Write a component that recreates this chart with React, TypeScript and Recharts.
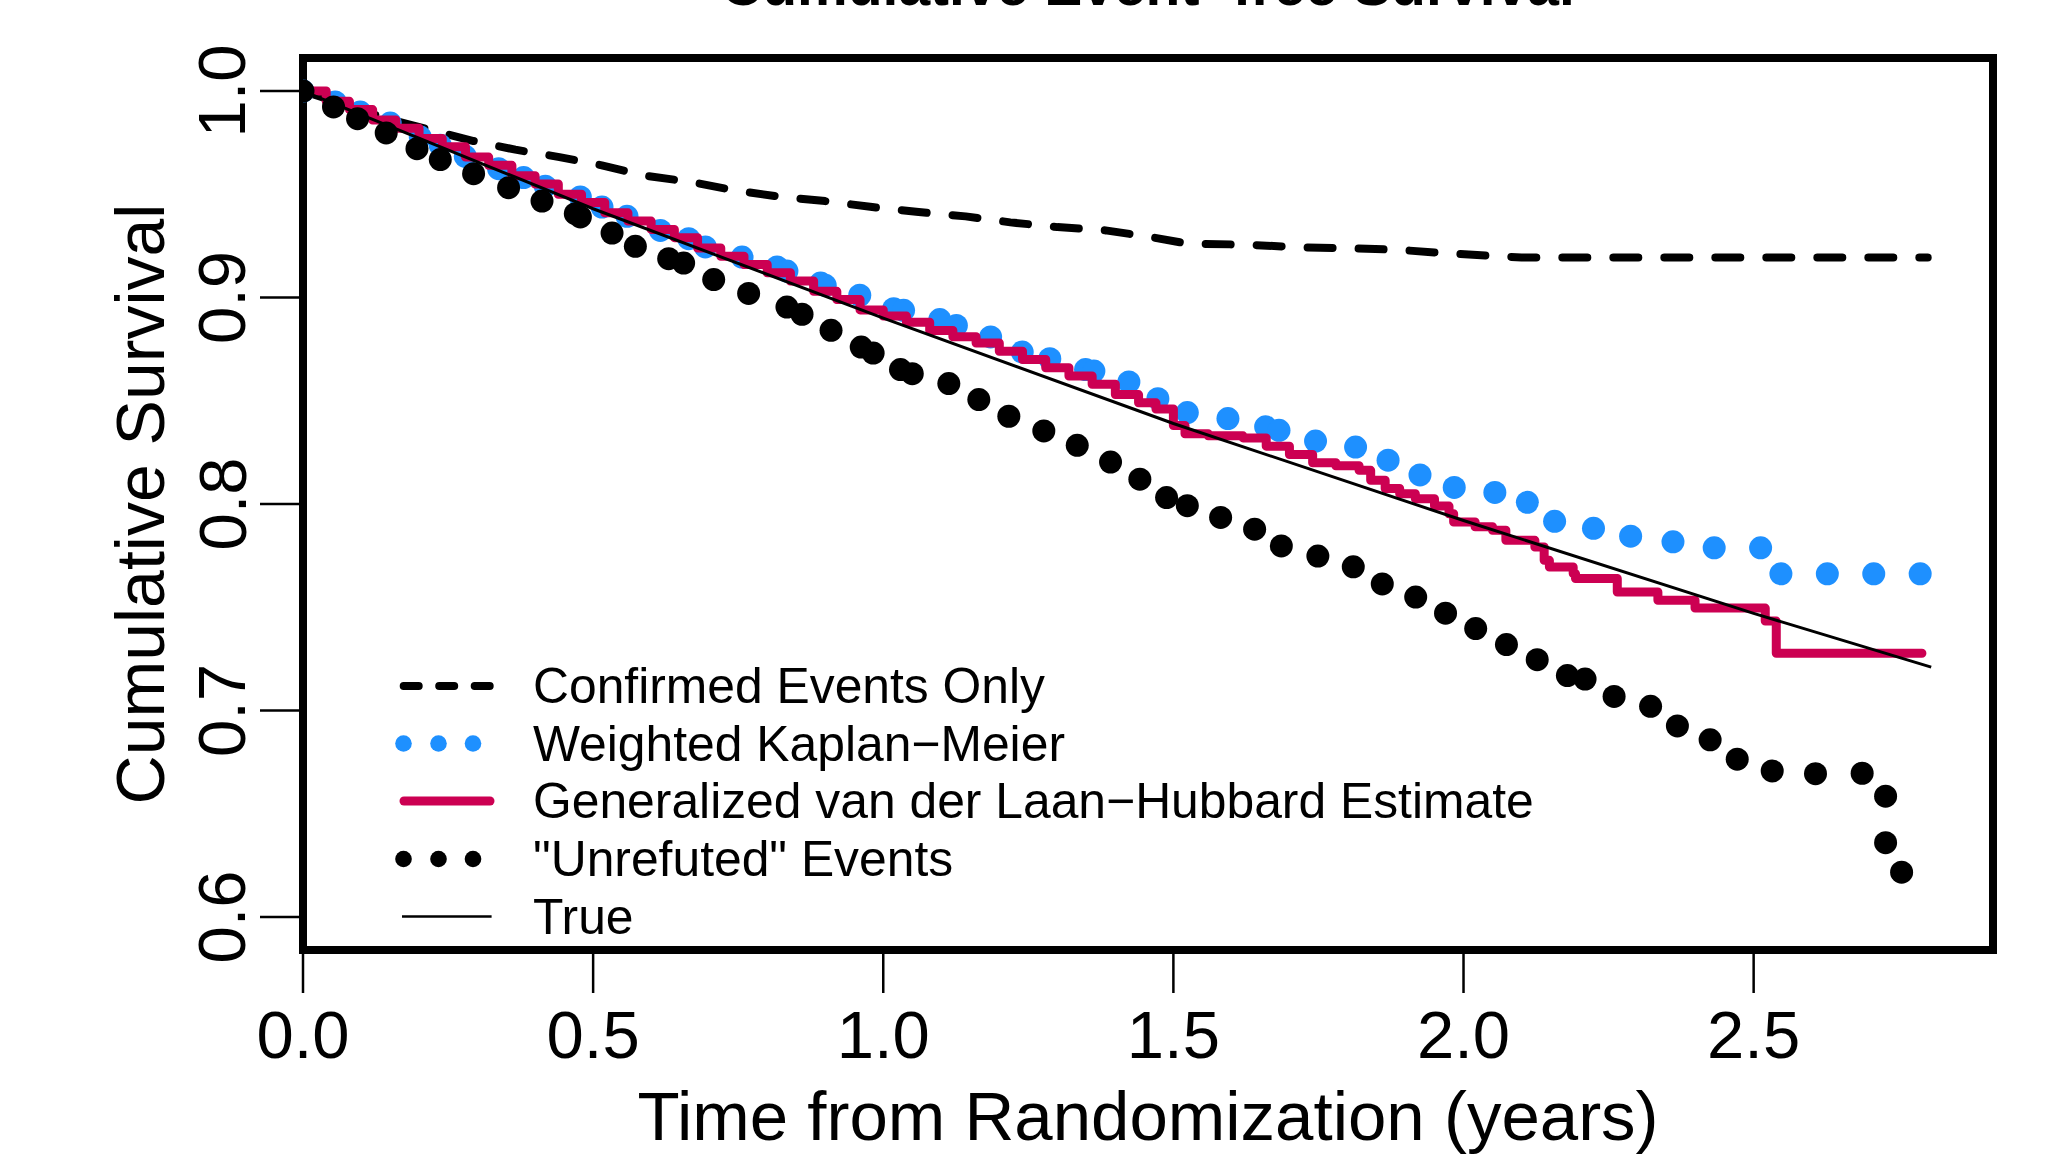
import React from 'react';
import { ComposedChart, Line, Scatter, XAxis, YAxis, ReferenceArea } from 'recharts';

const FONT = '"Liberation Sans", Arial, Helvetica, sans-serif';

// Confirmed Events Only (dashed)
const confT = [0, 0.151, 0.222, 0.294, 0.366, 0.442, 0.515, 0.59, 0.668, 0.742, 0.817, 0.9, 0.981, 1.061, 1.142, 1.219, 1.3, 1.383, 1.461, 1.524, 1.627, 1.711, 1.797, 1.883, 1.966, 2.05, 2.1, 2.8];
const confS = [1.0, 0.9861, 0.981, 0.9758, 0.9716, 0.968, 0.964, 0.959, 0.956, 0.952, 0.949, 0.9467, 0.9438, 0.9414, 0.9393, 0.9364, 0.9341, 0.9325, 0.9293, 0.9261, 0.9256, 0.9244, 0.9239, 0.9232, 0.9215, 0.9201, 0.9194, 0.9194];

// Weighted Kaplan-Meier (dotted, read as dot positions)
const wkmT = [0, 0.0555, 0.0986, 0.1503, 0.2021, 0.2366, 0.2797, 0.3371, 0.3802, 0.4176, 0.4779, 0.5153, 0.5584, 0.6159, 0.6647, 0.6934, 0.7567, 0.817, 0.834, 0.892, 0.9, 0.9595, 1.018, 1.035, 1.0974, 1.126, 1.185, 1.2395, 1.287, 1.3486, 1.363, 1.4233, 1.4733, 1.524, 1.594, 1.659, 1.682, 1.745, 1.814, 1.87, 1.925, 1.984, 2.054, 2.11, 2.157, 2.224, 2.288, 2.361, 2.432, 2.512, 2.547, 2.627, 2.707, 2.787];
const wkmS = [1.0, 0.9947, 0.9898, 0.9845, 0.9777, 0.9737, 0.9684, 0.9624, 0.9581, 0.9539, 0.9487, 0.9438, 0.9393, 0.9325, 0.9285, 0.9245, 0.9196, 0.9148, 0.9128, 0.907, 0.9059, 0.9011, 0.8946, 0.8938, 0.8893, 0.8865, 0.8809, 0.8736, 0.8704, 0.8651, 0.8644, 0.8591, 0.851, 0.8443, 0.8414, 0.8374, 0.8357, 0.8305, 0.8276, 0.8212, 0.8141, 0.808, 0.8056, 0.8008, 0.7916, 0.7882, 0.7844, 0.7817, 0.7788, 0.7788, 0.7662, 0.7662, 0.7662, 0.7662];

// Generalized van der Laan-Hubbard estimate (step function)
const gvlT = [0, 0.04, 0.08, 0.12, 0.16, 0.2, 0.24, 0.28, 0.32, 0.36, 0.4, 0.44, 0.48, 0.52, 0.56, 0.6, 0.64, 0.68, 0.72, 0.76, 0.8, 0.84, 0.88, 0.92, 0.96, 1.0, 1.04, 1.08, 1.12, 1.16, 1.2, 1.24, 1.28, 1.32, 1.36, 1.4, 1.44, 1.47, 1.5, 1.52, 1.56, 1.62, 1.66, 1.7, 1.74, 1.78, 1.82, 1.84, 1.865, 1.89, 1.917, 1.95, 1.975, 1.983, 2.02, 2.05, 2.073, 2.123, 2.139, 2.148, 2.189, 2.193, 2.265, 2.335, 2.399, 2.52, 2.539, 2.79];
const gvlS = [1.0, 0.995, 0.991, 0.986, 0.982, 0.977, 0.973, 0.968, 0.964, 0.959, 0.955, 0.95, 0.946, 0.941, 0.937, 0.933, 0.929, 0.924, 0.92, 0.916, 0.912, 0.908, 0.903, 0.899, 0.894, 0.891, 0.888, 0.884, 0.881, 0.878, 0.874, 0.87, 0.866, 0.862, 0.858, 0.853, 0.849, 0.846, 0.838, 0.834, 0.833, 0.832, 0.828, 0.824, 0.82, 0.8185, 0.8163, 0.8115, 0.8075, 0.805, 0.8026, 0.799, 0.7953, 0.7913, 0.789, 0.7873, 0.7824, 0.7792, 0.7727, 0.7695, 0.7663, 0.7639, 0.7574, 0.7534, 0.7496, 0.7433, 0.7277, 0.7277];

// "Unrefuted" Events (dotted, read as dot positions)
const unrT = [0, 0.0526, 0.094, 0.1434, 0.1964, 0.2366, 0.294, 0.3543, 0.4119, 0.4693, 0.478, 0.5326, 0.5728, 0.6302, 0.656, 0.7078, 0.768, 0.834, 0.86, 0.91, 0.962, 0.9826, 1.0297, 1.05, 1.113, 1.1647, 1.2164, 1.2767, 1.3343, 1.3917, 1.4422, 1.4883, 1.524, 1.5814, 1.64, 1.686, 1.749, 1.81, 1.86, 1.9176, 1.969, 2.021, 2.074, 2.127, 2.179, 2.2095, 2.2595, 2.3224, 2.3686, 2.425, 2.4717, 2.532, 2.6066, 2.687, 2.7274, 2.7274, 2.755];
const unrS = [1.0, 0.9923, 0.9866, 0.9797, 0.9721, 0.9668, 0.96, 0.9532, 0.9467, 0.9406, 0.939, 0.9312, 0.9248, 0.9188, 0.9167, 0.9087, 0.902, 0.8954, 0.8919, 0.8841, 0.876, 0.8731, 0.8651, 0.8631, 0.8583, 0.8506, 0.8425, 0.8354, 0.8284, 0.8203, 0.812, 0.8031, 0.7992, 0.7935, 0.7878, 0.7797, 0.7748, 0.7696, 0.7613, 0.7549, 0.7471, 0.7397, 0.7319, 0.7246, 0.7169, 0.7152, 0.7068, 0.702, 0.6925, 0.6858, 0.6764, 0.6707, 0.6694, 0.6696, 0.6585, 0.636, 0.6217];

// True survival
const trueT = [0, 0.5, 1.0, 1.5, 2.0, 2.5, 2.806];
const trueS = [1.0, 0.943, 0.89, 0.839, 0.792, 0.747, 0.721];

const xTicks = [0, 0.5, 1.0, 1.5, 2.0, 2.5];
const yTicks = [0.6, 0.7, 0.8, 0.9, 1.0];

const legendLabels = [
  'Confirmed Events Only',
  'Weighted Kaplan\u2212Meier',
  'Generalized van der Laan\u2212Hubbard Estimate',
  '"Unrefuted" Events',
  'True',
];

const zip = (ts: number[], ss: number[]) => ts.map((t, i) => ({ t, s: ss[i] }));

const confData = zip(confT, confS);
const wkmData = zip(wkmT, wkmS);
const gvlData = zip(gvlT, gvlS);
const unrData = zip(unrT, unrS);
const trueData = zip(trueT, trueS);

const BLUE = '#1E90FF';
const RED = '#CC0052';

const XTick = (props: any) => {
  const { x, y, payload } = props;
  return (
    <text x={x} y={y + 65} textAnchor="middle" fontFamily={FONT} fontSize={67} fill="#000">
      {Number(payload.value).toFixed(1)}
    </text>
  );
};

const YTick = (props: any) => {
  const { x, y, payload } = props;
  const bx = x - 14.5;
  return (
    <text x={bx} y={y} transform={`rotate(-90 ${bx} ${y})`} textAnchor="middle" fontFamily={FONT} fontSize={67} fill="#000">
      {Number(payload.value).toFixed(1)}
    </text>
  );
};

const dotShape = (color: string) => (props: any) => (
  <circle cx={props.cx} cy={props.cy} r={11.5} fill={color} />
);

const rowY = [686, 743.5, 801, 859, 916.5];

export default function App() {
  return (
    <div style={{ position: 'absolute', left: 0, top: 0, width: 2049, height: 1160, background: '#fff' }}>
      <ComposedChart width={2049} height={1160} margin={{ top: 58, right: 56, bottom: 0, left: 0 }}>
        <XAxis
          type="number"
          dataKey="t"
          domain={[0, 2.9125]}
          ticks={xTicks}
          interval={0}
          height={210}
          axisLine={false}
          tickSize={43}
          tickMargin={0}
          tickLine={{ stroke: '#000', strokeWidth: 2.5 }}
          tick={XTick}
          allowDataOverflow
        />
        <YAxis
          type="number"
          dataKey="s"
          domain={[0.584, 1.016]}
          ticks={yTicks}
          interval={0}
          width={303}
          axisLine={false}
          tickSize={43}
          tickMargin={0}
          tickLine={{ stroke: '#000', strokeWidth: 2.5 }}
          tick={YTick}
          allowDataOverflow
        />
        <Line
          data={confData}
          dataKey="s"
          type="linear"
          stroke="#000"
          strokeWidth={8}
          strokeDasharray="25 26"
          strokeLinecap="round"
          strokeLinejoin="round"
          dot={false}
          activeDot={false}
          isAnimationActive={false}
          {...({ zIndex: 600 } as any)}
        />
        <Scatter data={wkmData} dataKey="s" fill={BLUE} shape={dotShape(BLUE)} isAnimationActive={false} {...({ zIndex: 610 } as any)} />
        <Line
          data={gvlData}
          dataKey="s"
          type="stepAfter"
          stroke={RED}
          strokeWidth={9}
          strokeLinecap="round"
          strokeLinejoin="round"
          dot={false}
          activeDot={false}
          isAnimationActive={false}
          {...({ zIndex: 620 } as any)}
        />
        <Scatter data={unrData} dataKey="s" fill="#000" shape={dotShape('#000')} isAnimationActive={false} {...({ zIndex: 630 } as any)} />
        <Line
          data={trueData}
          dataKey="s"
          type="linear"
          stroke="#000"
          strokeWidth={3}
          dot={false}
          activeDot={false}
          isAnimationActive={false}
          {...({ zIndex: 640 } as any)}
        />
        <ReferenceArea
          x1={0}
          x2={2.9125}
          y1={0.584}
          y2={1.016}
          fill="none"
          fillOpacity={0}
          stroke="#000"
          strokeWidth={8}
          ifOverflow="visible"
        />
      </ComposedChart>
      <svg
        width={2049}
        height={1160}
        style={{ position: 'absolute', left: 0, top: 0, pointerEvents: 'none' }}
      >
        <text x={1148} y={5} textAnchor="middle" fontFamily={FONT} fontWeight="bold" fontSize={57} fill="#000">
          Cumulative Event{'\u2212'}free Survival
        </text>
        <text x={1148} y={1140} textAnchor="middle" fontFamily={FONT} fontSize={69} fill="#000">
          Time from Randomization (years)
        </text>
        <text x={164} y={504} transform="rotate(-90 164 504)" textAnchor="middle" fontFamily={FONT} fontSize={68} fill="#000">
          Cumulative Survival
        </text>
        {/* legend symbols */}
        <line x1={403.7} x2={489.7} y1={rowY[0]} y2={rowY[0]} stroke="#000" strokeWidth={8} strokeDasharray="15 20.5" strokeLinecap="round" />
        {[403.5, 438.5, 473].map((cx) => (
          <circle key={'b' + cx} cx={cx} cy={rowY[1]} r={8.3} fill={BLUE} />
        ))}
        <line x1={404} x2={490} y1={rowY[2]} y2={rowY[2]} stroke={RED} strokeWidth={9} strokeLinecap="round" />
        {[403.5, 438.5, 473].map((cx) => (
          <circle key={'k' + cx} cx={cx} cy={rowY[3]} r={8.3} fill="#000" />
        ))}
        <line x1={402} x2={491.6} y1={rowY[4]} y2={rowY[4]} stroke="#000" strokeWidth={2.7} />
        {legendLabels.map((lab, i) => (
          <text key={lab} x={533} y={rowY[i] + 17} fontFamily={FONT} fontSize={49.8} fill="#000">
            {lab}
          </text>
        ))}
      </svg>
    </div>
  );
}
